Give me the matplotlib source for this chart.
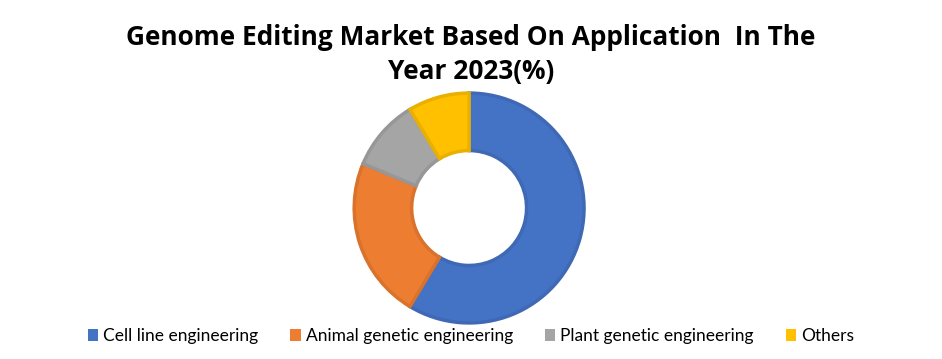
import matplotlib.pyplot as plt
from matplotlib.patches import Patch

labels = ['Cell line engineering', 'Animal genetic engineering',
          'Plant genetic engineering', 'Others']
shares = [58.6, 22.7, 10.1, 8.6]
colors = ['#4472C4', '#ED7D31', '#A5A5A5', '#FFC000']
edge_colors = ['#3F69B5', '#D9722C', '#979797', '#E9B000']

title = 'Genome Editing Market Based On Application  In The\nYear 2023(%)'

fig = plt.figure(figsize=(9.42, 3.59), dpi=100)
fig.patch.set_facecolor('white')

# title
fig.text(0.5, 0.932, title, ha='center', va='top', fontsize=18.9,
         fontweight='bold', family='Open Sans', linespacing=1.32)

# donut
ax = fig.add_axes([0.498 - 0.122, 0.4206 - 0.3203, 0.244, 0.6406])
wedges, _ = ax.pie(shares, colors=colors, startangle=90, counterclock=False,
                   radius=1.0, wedgeprops=dict(width=0.5, linewidth=2.5))
for w, ec in zip(wedges, edge_colors):
    w.set_edgecolor(ec)
ax.set_xlim(-1.0, 1.0)
ax.set_ylim(-1.0, 1.0)
ax.set_aspect('equal')
ax.axis('off')

# legend along the bottom
handles = [Patch(facecolor=c, edgecolor='none') for c in colors]
fig.legend(handles, labels, loc='center', bbox_to_anchor=(0.5, 0.064),
           ncol=4, frameon=False, prop={'family': 'Lato', 'size': 12.5},
           handlelength=0.6, handleheight=0.65, handletextpad=0.29,
           columnspacing=1.84)

fig.savefig('out.png', dpi=100)
